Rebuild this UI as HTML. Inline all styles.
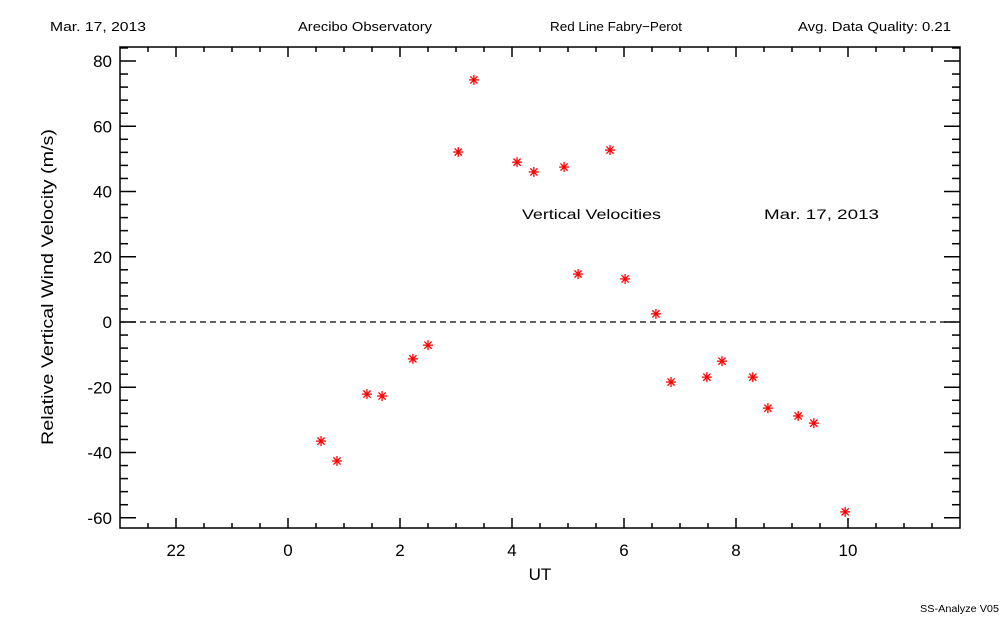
<!DOCTYPE html>
<html><head><meta charset="utf-8"><style>
body{margin:0;background:#fff;}
svg text{font-family:"Liberation Sans",sans-serif;fill:#000;}
</style></head><body>
<svg id="chart" width="1000" height="625" xmlns="http://www.w3.org/2000/svg">
<text x="50" y="31" font-size="13" textLength="96" lengthAdjust="spacingAndGlyphs">Mar. 17, 2013</text>
<text x="298" y="31" font-size="13" textLength="134" lengthAdjust="spacingAndGlyphs">Arecibo Observatory</text>
<text x="550" y="31" font-size="13" textLength="132" lengthAdjust="spacingAndGlyphs">Red Line Fabry−Perot</text>
<text x="798" y="31" font-size="13" textLength="153" lengthAdjust="spacingAndGlyphs">Avg. Data Quality: 0.21</text>
<text x="522" y="219" font-size="14" textLength="139" lengthAdjust="spacingAndGlyphs">Vertical Velocities</text>
<text x="764" y="219" font-size="14" textLength="115" lengthAdjust="spacingAndGlyphs">Mar. 17, 2013</text>
<text x="540" y="580" font-size="17" text-anchor="middle">UT</text>
<text transform="translate(53,287) rotate(-90)" font-size="17" text-anchor="middle" textLength="316" lengthAdjust="spacingAndGlyphs">Relative Vertical Wind Velocity (m/s)</text>
<text x="920" y="612" font-size="10" textLength="79" lengthAdjust="spacingAndGlyphs">SS-Analyze V05</text>
<g id="axes"></g>
<g id="marks"></g>
</svg>
<script>
const uts=[0.59,0.875,1.41,1.68,2.23,2.5,3.04,3.32,4.09,4.39,4.93,5.18,5.75,6.02,6.57,6.84,7.48,7.75,8.30,8.57,9.11,9.39,9.95];
const velocities=[-36.5,-42.6,-22.1,-22.7,-11.3,-7.1,52.1,74.2,49.0,46.0,47.5,14.7,52.7,13.2,2.5,-18.4,-16.9,-12.0,-16.9,-26.4,-28.8,-31.0,-58.2];
const xTickValues=[-2,0,2,4,6,8,10];
const xTickLabels=["22","0","2","4","6","8","10"];
const yTickValues=[-60,-40,-20,0,20,40,60,80];
const L=120,R=960,T=47,B=528;
const xMin=-3,xMax=12;
function X(v){return L+(v-xMin)*(R-L)/(xMax-xMin);}
function Y(v){return 322-v*3.2625;}
const NS="http://www.w3.org/2000/svg";
function mk(tag,attrs,parent){const e=document.createElementNS(NS,tag);for(const k in attrs)e.setAttribute(k,attrs[k]);parent.appendChild(e);return e;}
const ax=document.getElementById('axes');
const frame=mk('rect',{x:L,y:T,width:R-L,height:B-T,fill:'none',stroke:'#000','stroke-width':1.5},ax);


for(let v=-2.5;v<=11.5;v+=0.5){
  const major=xTickValues.includes(v);const len=major?10:5;const x=X(v);
  const t1=mk('line',{x1:x,x2:x,y1:B,y2:B-len,stroke:'#000','stroke-width':1.5},ax);
  
  
  const t2=mk('line',{x1:x,x2:x,y1:T,y2:T+len,stroke:'#000','stroke-width':1.5},ax);
  
  
}
xTickValues.forEach((v,i)=>{
  const t=mk('text',{x:X(v),y:B+28,'font-size':17,'text-anchor':'middle'},ax);t.textContent=xTickLabels[i];
  
  
});
for(let v=-60;v<=84;v+=4){
  const major=yTickValues.includes(v);const len=major?16:8;const y=Y(v);
  const t1=mk('line',{x1:L,x2:L+len,y1:y,y2:y,stroke:'#000','stroke-width':1.5},ax);
  
  
  const t2=mk('line',{x1:R,x2:R-len,y1:y,y2:y,stroke:'#000','stroke-width':1.5},ax);
  
  
}
yTickValues.forEach(v=>{
  const t=mk('text',{x:L-8,y:Y(v)+6,'font-size':17,'text-anchor':'end'},ax);t.textContent=String(v);
  
  
});
const zl=mk('line',{x1:L,x2:R,y1:Y(0),y2:Y(0),stroke:'#000','stroke-width':1.2,'stroke-dasharray':'6,4'},ax);


const mg=document.getElementById('marks');
uts.forEach((u,i)=>{
  const cx=X(u),cy=Y(velocities[i]);const g=mk('g',{stroke:'#f00','stroke-width':1.3},mg);
  
  
  const r=5;
  mk('line',{x1:cx-r,x2:cx+r,y1:cy,y2:cy},g);
  mk('line',{x1:cx,x2:cx,y1:cy-r,y2:cy+r},g);
  mk('line',{x1:cx-3.6,x2:cx+3.6,y1:cy-3.6,y2:cy+3.6},g);
  mk('line',{x1:cx-3.6,x2:cx+3.6,y1:cy+3.6,y2:cy-3.6},g);
});
</script>
</body></html>
